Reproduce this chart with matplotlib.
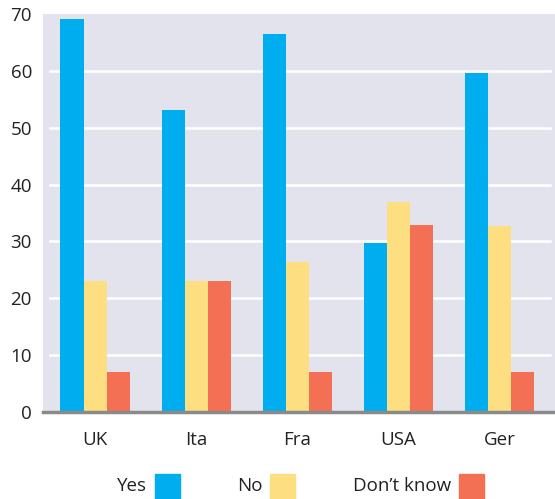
import matplotlib.pyplot as plt
import matplotlib.patches as mpatches
import numpy as np

plt.rcParams['font.family'] = ['Open Sans', 'DejaVu Sans']

countries = ["UK", "Ita", "Fra", "USA", "Ger"]
yes = [69.2, 53.2, 66.5, 29.8, 59.7]
no = [23, 23, 26.4, 37, 32.8]
dont_know = [7, 23, 7, 32.9, 7]

series = ["Yes", "No", "Don\u2019t know"]
colors = ["#00AEEF", "#FDDF82", "#F37055"]

W, H = 555, 499
fig = plt.figure(figsize=(W / 100, H / 100), dpi=100)
ax = fig.add_axes([43 / W, 1 - 412 / H, 512 / W, 398 / H])
ax.set_facecolor("#E3E3EE")

x = np.arange(len(countries))
w = 0.228
for i, (vals, c) in enumerate(zip([yes, no, dont_know], colors)):
    ax.bar(x + (i - 1) * w, vals, width=w, color=c, zorder=2)

ax.set_xlim(-0.515, 4.55)
ax.set_ylim(0, 70)
ax.set_yticks(range(0, 71, 10))
# white gridlines, slightly inset from the plot edges
for t in range(10, 70, 10):
    ax.axhline(t, xmin=7 / 512, xmax=507 / 512, color="white",
               linewidth=1.8, zorder=1)
for s in ["top", "right", "left"]:
    ax.spines[s].set_visible(False)
ax.spines["bottom"].set_color("#8a8a8a")
ax.spines["bottom"].set_linewidth(2.5)
ax.spines["bottom"].set_zorder(3)
ax.set_xticks(x)
ax.set_xticklabels(countries)
ax.tick_params(axis="both", length=0, labelsize=13.5, colors="#222222")
ax.tick_params(axis="x", pad=14)
ax.tick_params(axis="y", pad=8)

# legend: label text followed by a colour square, along the bottom edge
text_right = [147, 263, 451]
box_left = [155, 270, 459]
for label, c, tr, bl in zip(series, colors, text_right, box_left):
    fig.text(tr / W, 1 - 486 / H, label, ha="right", va="center",
             fontsize=13.5, color="#222222")
    fig.patches.append(mpatches.Rectangle((bl / W, 0), 25 / W, 25 / H,
                                          transform=fig.transFigure,
                                          color=c, figure=fig))

fig.savefig("out.png", dpi=100)
